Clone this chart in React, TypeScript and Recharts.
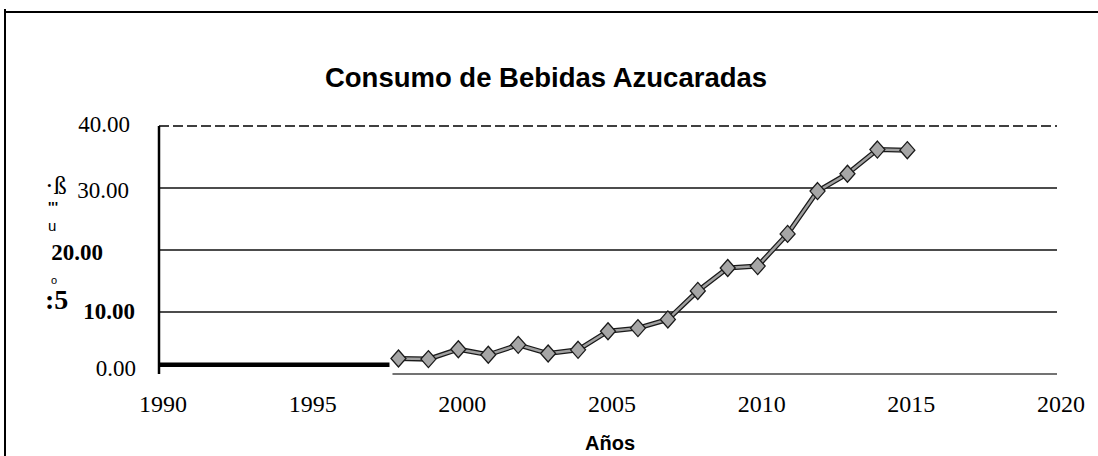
import React from "react";
import { LineChart, Line, XAxis, YAxis, ReferenceLine } from "recharts";

const years = [1998, 1999, 2000, 2001, 2002, 2003, 2004, 2005, 2006, 2007, 2008, 2009, 2010, 2011, 2012, 2013, 2014, 2015];
const consumo = [2.5, 2.4, 4.0, 3.1, 4.7, 3.3, 3.9, 6.9, 7.4, 8.8, 13.4, 17.1, 17.4, 22.6, 29.5, 32.3, 36.2, 36.1];
const xTicks = [1990, 1995, 2000, 2005, 2010, 2015, 2020];
const yTicks = [0, 10, 20, 30, 40];
const yTickLabels = ["0.00", "10.00", "20.00", "30.00", "40.00"];
const title = "Consumo de Bebidas Azucaradas";
const xTitle = "Años";

const data = years.map((y, i) => ({ year: y, value: consumo[i] }));

const SERIF = "'Liberation Serif', 'Times New Roman', serif";
const SANS = "'Liberation Sans', Arial, sans-serif";

const yStyle: Record<number, { dx: number; dy: number; bold: boolean; size: number }> = {
  40: { dx: -21, dy: 6, bold: false, size: 23 },
  30: { dx: -22, dy: 10, bold: false, size: 23 },
  20: { dx: -48, dy: 10, bold: true, size: 23 },
  10: { dx: -16, dy: 7, bold: true, size: 23 },
  0: { dx: -15, dy: 2, bold: false, size: 23 },
};

const YTick = (props: any) => {
  const { x, y, payload } = props;
  const v = payload.value as number;
  const s = yStyle[v] || { dx: 0, dy: 0, bold: false, size: 23 };
  const idx = yTicks.indexOf(v);
  return (
    <text
      x={x + s.dx}
      y={y + s.dy}
      textAnchor="end"
      fontFamily={SERIF}
      fontSize={s.size}
      fontWeight={s.bold ? "bold" : "normal"}
      fill="#000"
    >
      {idx >= 0 ? yTickLabels[idx] : v}
    </text>
  );
};

const XTick = (props: any) => {
  const { x, y, payload } = props;
  return (
    <text x={x + 4} y={y + 30} textAnchor="middle" fontFamily={SERIF} fontSize={24} fill="#000">
      {payload.value}
    </text>
  );
};

const Diamond = (props: any) => {
  const { cx, cy, index } = props;
  if (cx == null || cy == null) return <g key={`d-${index}`} />;
  const w = 7.5;
  const h = 8.5;
  return (
    <polygon
      key={`d-${index}`}
      points={`${cx},${cy - h} ${cx + w},${cy} ${cx},${cy + h} ${cx - w},${cy}`}
      fill="#a6a6a6"
      stroke="#1a1a1a"
      strokeWidth={1.3}
    />
  );
};

export default function App() {
  return (
    <div style={{ position: "absolute", left: 0, top: 0, width: 1098, height: 456, background: "#fff" }}>
      <LineChart
        width={1098}
        height={456}
        data={data}
        margin={{ top: 126, right: 41, bottom: 42, left: 19 }}
      >
        <XAxis
          dataKey="year"
          type="number"
          domain={[1990, 2020]}
          ticks={xTicks}
          axisLine={false}
          tickLine={false}
          height={40}
          tick={<XTick />}
          interval={0}
        />
        <YAxis
          type="number"
          domain={[0, 40]}
          ticks={yTicks}
          width={140}
          axisLine={{ stroke: "#000", strokeWidth: 2.5 }}
          tickLine={false}
          tick={<YTick />}
          interval={0}
        />
        <ReferenceLine y={40} stroke="#000" strokeWidth={1.5} strokeDasharray="10 4" ifOverflow="visible" />
        <ReferenceLine y={30} stroke="#111" strokeWidth={1.3} />
        <ReferenceLine y={20} stroke="#111" strokeWidth={1.3} />
        <ReferenceLine y={10} stroke="#111" strokeWidth={1.3} />
        <ReferenceLine
          segment={[{ x: 1997.8, y: 0 }, { x: 2020, y: 0 }]}
          stroke="#444"
          strokeWidth={1.5}
        />
        <ReferenceLine
          segment={[{ x: 1990, y: 1.5 }, { x: 1997.7, y: 1.5 }]}
          stroke="#000"
          strokeWidth={4.5}
        />
        <Line
          dataKey="value"
          type="linear"
          stroke="#1a1a1a"
          strokeWidth={5}
          dot={false}
          isAnimationActive={false}
        />
        <Line
          dataKey="value"
          type="linear"
          stroke="#a0a0a0"
          strokeWidth={2.5}
          dot={<Diamond />}
          activeDot={false}
          isAnimationActive={false}
        />
      </LineChart>
      <svg
        width={1098}
        height={456}
        style={{ position: "absolute", left: 0, top: 0, pointerEvents: "none" }}
      >
        <line x1={5} y1={12} x2={1098} y2={12} stroke="#000" strokeWidth={2} />
        <line x1={5} y1={9} x2={5} y2={456} stroke="#000" strokeWidth={2} />
        <text x={546} y={87} textAnchor="middle" fontFamily={SANS} fontWeight="bold" fontSize={27.5} fill="#000">
          {title}
        </text>
        <text x={610} y={450} textAnchor="middle" fontFamily={SANS} fontWeight="bold" fontSize={20} fill="#000">
          {xTitle}
        </text>
        <text x={45} y={194} fontFamily={SERIF} fontSize={26} fill="#000">·ß</text>
        <text x={48} y={212} fontFamily={SANS} fontWeight="bold" fontSize={14} fill="#000">'''</text>
        <text x={48} y={231} fontFamily={SANS} fontSize={15} fill="#000">u</text>
        <text x={51} y={284} fontFamily={SANS} fontSize={11} fill="#000">o</text>
        <text x={45} y={309} fontFamily={SERIF} fontWeight="bold" fontSize={28} fill="#000">:5</text>
      </svg>
    </div>
  );
}
